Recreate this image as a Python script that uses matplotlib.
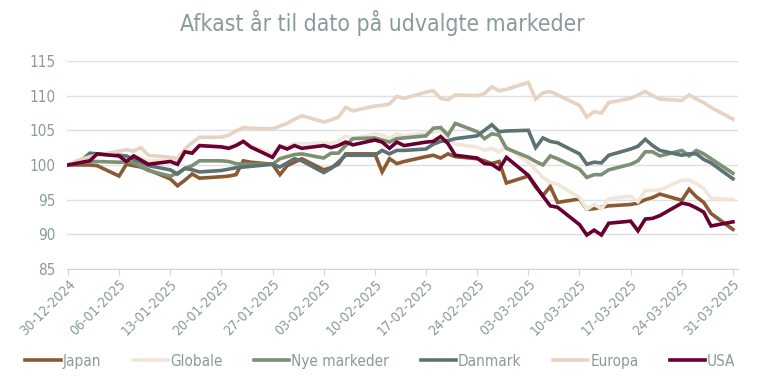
import numpy as np
import pandas as pd
import matplotlib
matplotlib.use("Agg")
import matplotlib.pyplot as plt
import matplotlib.dates as mdates

# trading days 30-12-2024 .. 31-03-2025 (66 points)
dates = pd.bdate_range("2024-12-30", "2025-03-31")

japan = [100, 100, 100, 100, 99.9,
         98.4, 100.1, 99.9, 99.7, 99.3,
         98.0, 97.0, 97.8, 98.7, 98.1,
         98.3, 98.4, 98.6, 100.6, 100.4,
         100.1, 98.6, 99.9, 100.4, 100.9,
         99.3, 99.6, 100.1, 101.6, 101.6,
         101.6, 99.0, 100.9, 100.2, 100.5,
         101.2, 101.4, 101.0, 101.6, 101.2,
         100.9, 100.6, 100.2, 100.5, 97.4,
         98.4, 96.8, 95.6, 96.9, 94.6,
         95.1, 93.6, 93.7, 93.9, 94.1,
         94.3, 94.5, 95.0, 95.3, 95.8,
         94.9, 96.5, 95.4, 94.6, 93.0,
         90.7]

globale = [100, 100.3, 100.6, 100.8, 101.5,
           101.5, 100.9, 101.4, 101.0, 100.6,
           100.7, 100.4, 101.9, 102.0, 102.8,
           102.7, 102.6, 103.0, 103.4, 102.8,
           101.6, 102.8, 102.6, 103.1, 103.0,
           103.2, 103.1, 103.4, 104.2, 103.8,
           104.5, 104.3, 103.8, 104.5, 104.2,
           104.6, 104.8, 105.0, 103.9, 103.0,
           102.6, 102.1, 102.4, 101.9, 102.6,
           100.4, 99.3, 98.2, 97.5, 97.2,
           95.3, 93.6, 94.3, 93.7, 95.1,
           95.5, 94.7, 96.3, 96.3, 96.4,
           97.8, 97.8, 97.3, 96.6, 95.2,
           95.0]

nye = [100, 100.2, 100.4, 100.5, 100.5,
       100.4, 100.4, 100.3, 99.8, 99.2,
       98.4, 98.8, 99.5, 99.9, 100.6,
       100.6, 100.5, 100.2, 100.1, 100.1,
       100.1, 100.9, 101.2, 101.5, 101.6,
       101.0, 101.7, 101.7, 102.8, 103.8,
       103.9, 103.6, 103.3, 103.8, 103.9,
       104.2, 105.3, 105.4, 104.3, 106.0,
       104.8, 103.8, 104.5, 104.3, 102.4,
       101.1, 100.5, 100.0, 101.3, 100.9,
       99.4, 98.2, 98.6, 98.6, 99.3,
       100.1, 100.6, 101.9, 101.9, 101.3,
       102.1, 101.3, 102.1, 101.6, 100.9,
       98.8]

danmark = [100, 100.3, 100.8, 101.7, 101.6,
           101.4, 101.3, 100.8, 100.4, 99.9,
           99.3, 98.7, 99.5, 99.3, 99.0,
           99.2, 99.4, 99.6, 99.7, 99.8,
           100.1, 99.7, 100.3, 100.9, 100.6,
           98.9, 99.5, 100.4, 101.4, 101.4,
           101.4, 102.1, 101.6, 102.1, 102.1,
           102.3, 103.0, 103.4, 103.5, 103.8,
           104.2, 105.0, 105.8, 104.8, 104.9,
           105.0, 102.5, 103.9, 103.4, 103.2,
           101.6, 100.1, 100.4, 100.3, 101.4,
           102.3, 102.7, 103.7, 102.8, 102.1,
           101.4, 101.6, 101.6, 100.8, 100.3,
           98.0]

europa = [100, 100.5, 100.9, 101.2, 101.4,
          102.0, 102.2, 102.0, 102.5, 101.4,
          101.1, 100.9, 102.3, 103.2, 104.0,
          104.0, 104.3, 104.9, 105.4, 105.3,
          105.2, 105.6, 106.0, 106.6, 107.1,
          106.2, 106.5, 106.9, 108.3, 107.8,
          108.5, 108.6, 108.8, 109.9, 109.6,
          110.5, 110.7, 109.6, 109.4, 110.1,
          110.0, 110.3, 111.3, 110.7, 110.9,
          111.9, 109.5, 110.4, 110.6, 110.1,
          108.6, 106.9, 107.7, 107.5, 109.0,
          109.6, 110.1, 110.6, 110.0, 109.5,
          109.3, 110.1, 109.5, 109.0, 108.3,
          106.6]

usa = [100, 100.2, 100.4, 100.6, 101.6,
       101.3, 100.5, 101.3, 100.7, 100.1,
       100.5, 100.1, 101.9, 101.7, 102.8,
       102.6, 102.4, 102.8, 103.4, 102.6,
       101.1, 102.7, 102.3, 102.8, 102.4,
       102.8, 102.5, 102.8, 103.3, 102.9,
       103.6, 103.3, 102.4, 103.3, 102.8,
       103.3, 103.4, 104.1, 103.1, 101.4,
       101.0, 100.2, 100.1, 99.4, 101.1,
       98.5, 97.0, 95.5, 94.1, 93.9,
       91.4, 89.9, 90.6, 89.9, 91.6,
       91.9, 90.5, 92.2, 92.3, 92.7,
       94.5, 94.3, 93.8, 93.2, 91.2,
       91.8]

names = ["Japan", "Globale", "Nye markeder", "Danmark", "Europa", "USA"]
series = [japan, globale, nye, danmark, europa, usa]
colors = ["#8C5A32", "#F1E6DA", "#7E9073", "#5E7273", "#E6D3C2", "#6A0032"]

txt = "#8A9B9C"
plt.rcParams["font.family"] = ["DejaVu Sans"]
plt.rcParams["font.stretch"] = "condensed"

fig = plt.figure(figsize=(7.58, 3.81), dpi=100)
ax = fig.add_axes([0.0884, 0.294, 0.885, 0.546])

for name, vals, c in zip(names, series, colors):
    ax.plot(dates, vals, color=c, lw=2.6, label=name, solid_joinstyle="miter")

ax.set_ylim(85, 115)
ax.set_yticks(np.arange(85, 116, 5))
ax.set_xlim(pd.Timestamp("2024-12-30") - pd.Timedelta(hours=3),
            pd.Timestamp("2025-03-31") + pd.Timedelta(hours=16))
ax.set_xticks(pd.date_range("2024-12-30", "2025-03-31", freq="7D"))
ax.xaxis.set_major_formatter(mdates.DateFormatter("%d-%m-%Y"))
plt.setp(ax.get_xticklabels(), rotation=45, ha="right", rotation_mode="anchor")

ax.grid(axis="y", color="#DCE0E0", lw=1)
ax.set_axisbelow(True)
for s in ["top", "right", "left"]:
    ax.spines[s].set_visible(False)
ax.spines["bottom"].set_color("#D0D4D4")
ax.tick_params(axis="y", length=0, labelsize=11, colors=txt, pad=8)
ax.tick_params(axis="x", length=4, color="#D0D4D4", labelsize=10, labelcolor=txt, pad=2)

fig.suptitle("Afkast år til dato på udvalgte markeder", x=0.505, y=0.975,
             fontsize=16.5, color=txt)

fig.legend(loc="center", ncol=6, frameon=False, fontsize=11,
           labelcolor=txt, handlelength=2.3, handletextpad=0.15,
           columnspacing=2.05, bbox_to_anchor=(0.502, 0.052))

fig.savefig("out.png", dpi=100)
